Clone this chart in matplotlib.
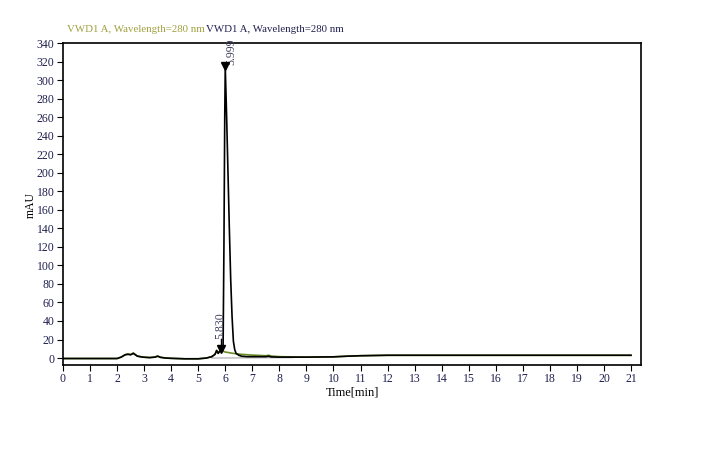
import matplotlib
matplotlib.use("Agg")
import matplotlib.pyplot as plt

# Black signal trace
t_black = [0.0, 1.0, 2.0, 2.15, 2.3, 2.4, 2.5, 2.6, 2.75, 2.95, 3.2, 3.4, 3.5, 3.6, 3.8,
           4.0, 4.5, 5.0, 5.3, 5.5, 5.62, 5.68, 5.74, 5.8, 5.83, 5.87, 5.9, 5.92,
           5.95, 5.98, 5.999, 6.05, 6.1, 6.15, 6.2, 6.25, 6.3, 6.35, 6.4, 6.5, 6.6,
           6.8, 7.0, 7.5, 7.6, 7.7, 8.0, 9.0, 10.0, 10.5, 11.0, 12.0, 13.0, 21.0]
v_black = [-0.5, -0.5, -0.5, 1.0, 3.5, 4.0, 3.5, 5.0, 2.0, 1.0, 0.5, 1.0, 2.0, 0.8, 0.0,
           -0.3, -0.8, -0.8, 0.0, 1.5, 4.0, 8.0, 5.0, 8.0, 9.0, 7.0, 8.0, 15.0,
           120.0, 260.0, 314.0, 260.0, 200.0, 140.0, 85.0, 45.0, 18.0, 9.0, 5.0, 3.0, 2.0,
           1.5, 1.5, 1.5, 2.0, 1.2, 1.0, 1.0, 1.3, 2.0, 2.5, 3.0, 3.0, 3.0]

# Green (second signal) trace
t_green = [0.0, 1.0, 2.0, 2.15, 2.3, 2.4, 2.5, 2.6, 2.75, 2.95, 3.2, 3.4, 3.5, 3.6, 3.8,
           4.0, 4.5, 5.0, 5.3, 5.5, 5.62, 5.68, 5.74, 5.8, 5.9, 6.0, 6.3, 6.6,
           7.0, 7.5, 7.6, 7.7, 8.0, 9.0, 10.0, 10.5, 11.0, 12.0, 13.0, 21.0]
v_green = [-0.5, -0.5, -0.5, 1.0, 3.8, 4.5, 3.8, 5.5, 2.2, 1.0, 0.5, 1.0, 2.2, 0.8, 0.0,
           -0.3, -0.8, -0.8, 0.0, 1.5, 4.0, 8.5, 5.5, 7.0, 7.5, 6.5, 5.0, 4.0,
           3.2, 2.5, 3.0, 2.2, 1.5, 1.0, 1.3, 2.0, 2.5, 3.0, 3.0, 3.0]

# Integration baseline (grey)
t_base = [5.5, 8.5]
v_base = [0.0, 0.5]

# Peak annotations
peak_t = [5.830, 5.999]
peak_v = [9.0, 314.0]
peak_labels = ["5.830", "5.999"]

title_text = "VWD1 A, Wavelength=280 nm"

x_ticks = list(range(0, 22))
y_ticks = list(range(0, 341, 20))

serif = ["Liberation Serif", "DejaVu Serif"]
plt.rcParams["font.family"] = serif

fig = plt.figure(figsize=(7.04, 4.55), dpi=100)
ax = fig.add_axes([63 / 704, 1 - 365 / 455, (641 - 63) / 704, (365 - 43) / 455])

ax.plot(t_base, v_base, color="#b8b8b8", lw=1.0, zorder=1)
ax.plot(t_green, v_green, color="#6b8e23", lw=1.2, zorder=2)
ax.plot(t_black, v_black, color="black", lw=1.2, zorder=3)

ax.plot(peak_t, [v + 1 for v in peak_v], marker="v", linestyle="none",
        color="black", markersize=6, zorder=4)
ax.plot([peak_t[0], peak_t[0]], [peak_v[0] + 2, peak_v[0] + 12], color="black", lw=1.0, zorder=4)

ax.text(peak_t[1] + 0.22, peak_v[1] + 2, peak_labels[1], rotation=90, ha="center",
        va="bottom", fontsize=8.5, color="#404060")
ax.text(peak_t[0] - 0.02, peak_v[0] + 12, peak_labels[0], rotation=90, ha="center",
        va="bottom", fontsize=8.5, color="#404060")

ax.set_xlim(0, 21.37)
ax.set_ylim(-7.5, 340)
ax.set_xticks(x_ticks)
ax.set_yticks(y_ticks)
ax.tick_params(axis="both", direction="out", length=4, width=0.8, labelsize=8.5,
               colors="black", pad=2)
ax.tick_params(axis="x", labelcolor="#202050")
ax.tick_params(axis="y", labelcolor="#202050")
for s in ax.spines.values():
    s.set_linewidth(1.2)
    s.set_color("black")

ax.set_xlabel("Time[min]", fontsize=9, labelpad=1)
ax.set_ylabel("mAU", fontsize=8.5)
ax.yaxis.set_label_coords(-0.045, 0.497)

fs_title = 7.8
fig.text(67 / 704, 1 - 30 / 455, title_text, color="#a0a040",
         fontsize=fs_title, va="center", ha="left")
fig.text(206 / 704, 1 - 30 / 455, title_text, color="#202050",
         fontsize=fs_title, va="center", ha="left")

fig.savefig("out.png", dpi=100)
